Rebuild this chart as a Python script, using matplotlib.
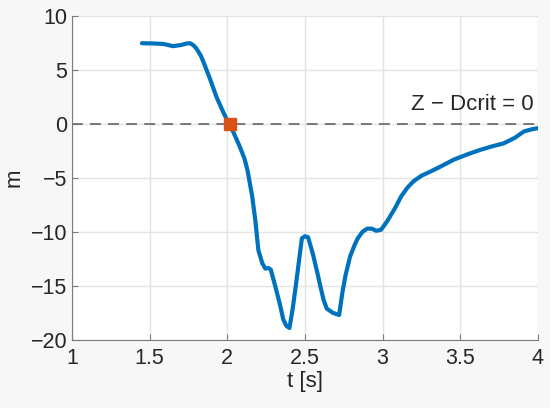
import matplotlib.pyplot as plt
import numpy as np

plt.rcParams['font.family'] = ['Liberation Sans', 'DejaVu Sans']

# curve
t = [1.45, 1.52, 1.59, 1.62, 1.65, 1.70, 1.74, 1.76, 1.78, 1.80, 1.83, 1.85,
     1.89, 1.93, 1.97, 2.00, 2.04, 2.08, 2.11, 2.13, 2.16, 2.18, 2.20, 2.225,
     2.245, 2.265, 2.28, 2.31, 2.34, 2.36, 2.38, 2.40, 2.42, 2.44, 2.48, 2.50,
     2.52, 2.55, 2.58, 2.60, 2.62, 2.64, 2.68, 2.72, 2.74, 2.76, 2.79, 2.82,
     2.84, 2.87, 2.90, 2.93, 2.96, 2.99, 3.01, 3.03, 3.08, 3.12, 3.16, 3.20,
     3.25, 3.31, 3.38, 3.46, 3.55, 3.63, 3.70, 3.78, 3.85, 3.91, 3.96, 4.0]
m = [7.47, 7.45, 7.4, 7.3, 7.2, 7.3, 7.45, 7.47, 7.3, 7.0, 6.3, 5.6,
     4.1, 2.5, 1.2, 0.3, -0.8, -2.1, -3.2, -4.3, -6.7, -8.9, -11.7, -12.9,
     -13.4, -13.35, -13.5, -15.1, -16.8, -18.1, -18.7, -18.9, -17.2, -15.1, -10.6, -10.4,
     -10.5, -12.0, -13.8, -15.1, -16.3, -17.1, -17.5, -17.7, -15.7, -14.1, -12.3, -11.2,
     -10.6, -10.0, -9.7, -9.7, -9.9, -9.8, -9.4, -9.0, -7.8, -6.7, -5.9, -5.3,
     -4.8, -4.4, -3.9, -3.3, -2.8, -2.4, -2.1, -1.8, -1.3, -0.7, -0.5, -0.4]
crit_t, crit_m = 2.02, 0.0

fig = plt.figure(figsize=(5.5, 4.08), dpi=100, facecolor='#f7f7f7')
ax = fig.add_axes([0.131, 0.167, 0.847, 0.794])
ax.set_facecolor('white')

ax.axhline(0, color='#6e6e6e', lw=1.3, ls=(0, (6, 4)), zorder=1)
ax.plot(t, m, color='#0072bd', lw=3, solid_joinstyle='round', solid_capstyle='round', zorder=2)
ax.plot(crit_t, crit_m, 's', color='#d95319', ms=8, zorder=3)
ax.text(3.97, 0.8, 'Z − Dcrit = 0', ha='right', va='bottom', fontsize=16, color='#262626')

ax.set_xlim(1, 4)
ax.set_ylim(-20, 10)
ax.set_xticks(np.arange(1, 4.01, 0.5))
ax.set_xticklabels(['1', '1.5', '2', '2.5', '3', '3.5', '4'])
ax.set_yticks(np.arange(-20, 10.1, 5))
ax.grid(True, color='#e3e3e3', lw=1)
ax.set_axisbelow(True)
for s in ['top', 'right']:
    ax.spines[s].set_visible(False)
for s in ['left', 'bottom']:
    ax.spines[s].set_color('#7a7a7a')
ax.tick_params(direction='in', length=4, color='#7a7a7a', labelsize=15.5, labelcolor='#262626')
ax.tick_params(axis='x', pad=6)
ax.set_xlabel('t [s]', fontsize=16, color='#262626', labelpad=1)
ax.set_ylabel('m', fontsize=16, color='#262626', labelpad=4)

fig.savefig('out.png', facecolor=fig.get_facecolor())
